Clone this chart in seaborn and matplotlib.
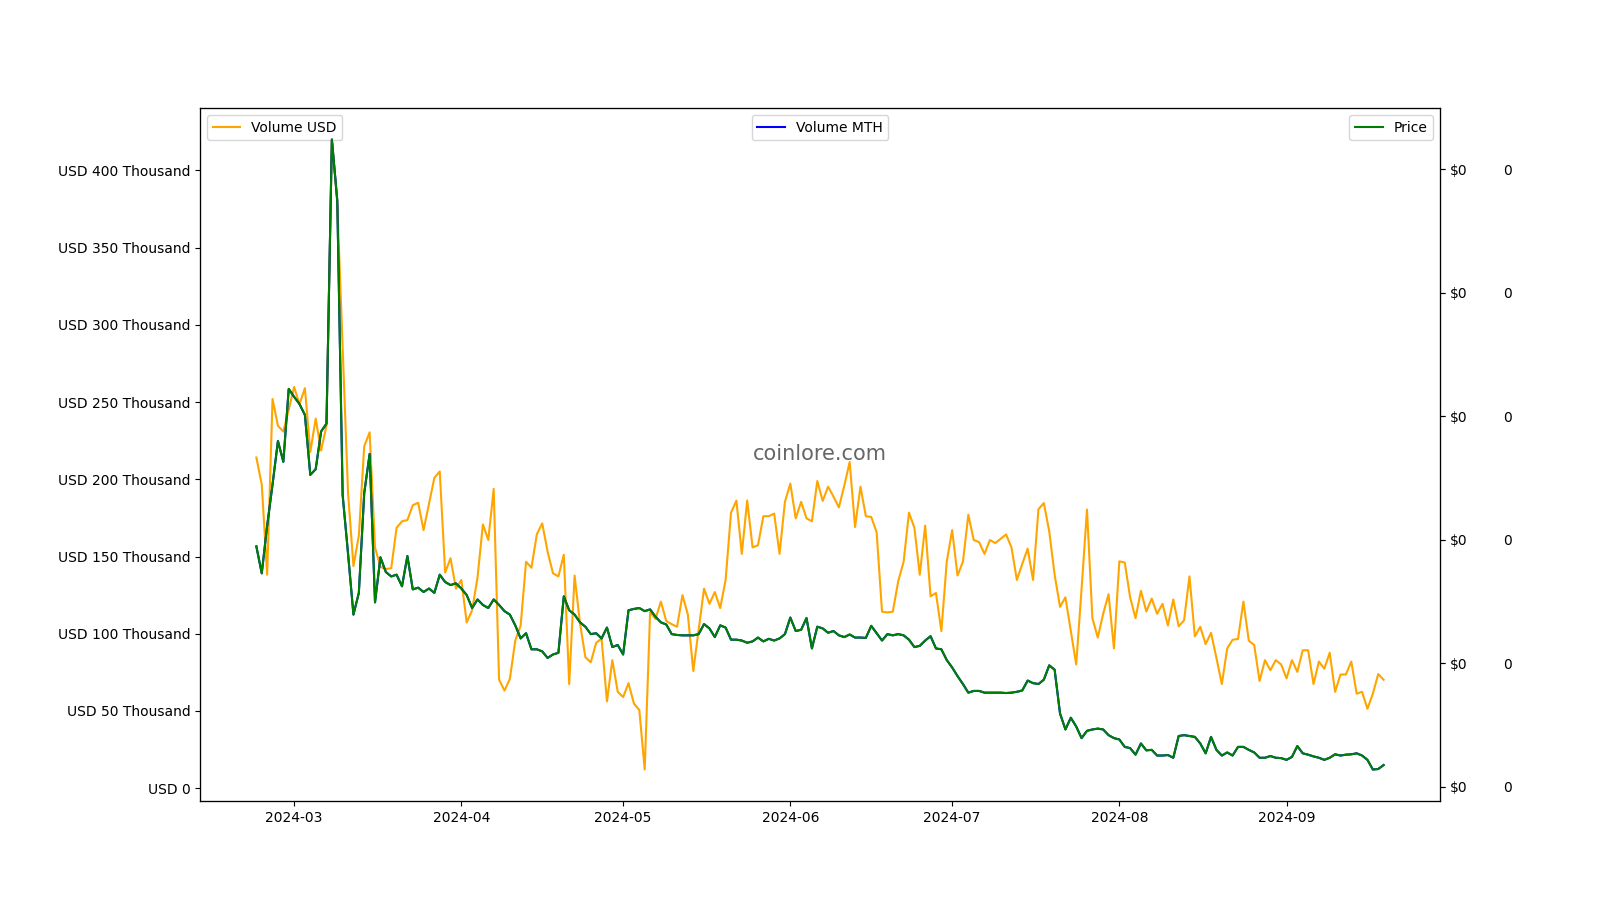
import matplotlib
matplotlib.use("Agg")
import matplotlib.pyplot as plt
import matplotlib.dates as mdates
from matplotlib.ticker import FuncFormatter
import seaborn as sns
import pandas as pd
import numpy as np

start_date = "2024-02-23"
end_date = "2024-09-19"

volume_usd = [
    214100, 196600, 138200, 252000, 234600, 230900, 245000, 259800, 248600, 259000,
    217700, 239300, 218600, 234600, 420000, 379000, 285000, 191000, 143800, 163500,
    221400, 230400, 155900, 143300, 141900, 142400, 168600, 172800, 173600, 183200,
    184800, 167100, 184000, 200900, 205100, 139600, 148900, 129200, 134800, 107300,
    115200, 136300, 170800, 160700, 193800, 70200, 63200, 70800, 95500, 105300,
    146600, 142700, 164400, 171400, 153100, 139100, 137100, 151100, 67400, 137700,
    106800, 84800, 81500, 94100, 96900, 56200, 82900, 62400, 59000, 68000,
    54800, 50600, 12100, 113800, 109600, 120800, 108200, 106200, 104500, 125000,
    112400, 75900, 102500, 129200, 119400, 127000, 116600, 134800, 178400, 186200,
    151700, 186200, 155900, 157300, 176100, 176100, 177800, 151700, 185400, 197200,
    174700, 185400, 174700, 172800, 198900, 186000, 195200, 188800, 181800, 195800,
    211200, 169100, 195200, 176100, 175600, 165700, 114300, 113800, 114300, 134000,
    146600, 178400, 168600, 138200, 170000, 124200, 126400, 101700, 146600, 167100,
    137700, 146600, 177000, 160700, 159300, 151700, 160700, 158700, 161500, 164300,
    155900, 134800, 145200, 155100, 134800, 180600, 184600, 166300, 138200, 117400,
    123600, 101700, 80100, 129200, 180400, 110100, 97500, 112900, 125600, 90500,
    146900, 146100, 123600, 110100, 127800, 114400, 122800, 112900, 119400, 105300,
    122200, 104800, 108700, 137100, 98300, 104500, 93300, 100600, 84300, 67400,
    90500, 96100, 96600, 120800, 95500, 92700, 69400, 82900, 76400, 82900,
    80100, 71100, 82900, 75300, 89300, 89300, 67400, 82000, 77300, 87700,
    62400, 73600, 73600, 82000, 61200, 62400, 51400, 61200, 73900, 70200,
]

price = [
    0.01946, 0.01728, 0.02114, 0.02448, 0.02799, 0.02631, 0.03221, 0.03157, 0.03098, 0.03010,
    0.02525, 0.02571, 0.02876, 0.02940, 0.05240, 0.04748, 0.02360, 0.01886, 0.01394, 0.01570,
    0.02378, 0.02694, 0.01493, 0.01858, 0.01739, 0.01703, 0.01717, 0.01623, 0.01868, 0.01598,
    0.01612, 0.01577, 0.01605, 0.01570, 0.01717, 0.01658, 0.01633, 0.01647, 0.01605, 0.01552,
    0.01447, 0.01517, 0.01472, 0.01447, 0.01517, 0.01472, 0.01422, 0.01394, 0.01307, 0.01201,
    0.01243, 0.01113, 0.01113, 0.01096, 0.01043, 0.01071, 0.01085, 0.01542, 0.01429, 0.01394,
    0.01331, 0.01296, 0.01236, 0.01243, 0.01201, 0.01289, 0.01131, 0.01148, 0.01071, 0.01429,
    0.01440, 0.01447, 0.01422, 0.01436, 0.01377, 0.01331, 0.01314, 0.01236, 0.01229, 0.01226,
    0.01226, 0.01226, 0.01236, 0.01317, 0.01282, 0.01212, 0.01307, 0.01289, 0.01191, 0.01191,
    0.01184, 0.01166, 0.01177, 0.01208, 0.01177, 0.01198, 0.01184, 0.01201, 0.01236, 0.01370,
    0.01261, 0.01271, 0.01366, 0.01120, 0.01296, 0.01282, 0.01247, 0.01261, 0.01226, 0.01212,
    0.01233, 0.01208, 0.01208, 0.01205, 0.01303, 0.01243, 0.01184, 0.01236, 0.01226, 0.01236,
    0.01226, 0.01191, 0.01131, 0.01141, 0.01184, 0.01219, 0.01120, 0.01113, 0.01026, 0.00966,
    0.00896, 0.00832, 0.00762, 0.00776, 0.00776, 0.00762, 0.00762, 0.00762, 0.00762, 0.00759,
    0.00762, 0.00769, 0.00780, 0.00860, 0.00839, 0.00832, 0.00867, 0.00983, 0.00948, 0.00594,
    0.00464, 0.00559, 0.00488, 0.00394, 0.00453, 0.00464, 0.00471, 0.00464, 0.00418, 0.00394,
    0.00383, 0.00323, 0.00313, 0.00260, 0.00351, 0.00295, 0.00299, 0.00253, 0.00253, 0.00257,
    0.00235, 0.00411, 0.00418, 0.00411, 0.00404, 0.00351, 0.00271, 0.00404, 0.00299, 0.00253,
    0.00278, 0.00253, 0.00323, 0.00323, 0.00299, 0.00278, 0.00235, 0.00235, 0.00249, 0.00235,
    0.00232, 0.00218, 0.00242, 0.00330, 0.00271, 0.00260, 0.00246, 0.00235, 0.00218, 0.00235,
    0.00263, 0.00253, 0.00260, 0.00263, 0.00271, 0.00253, 0.00218, 0.00140, 0.00144, 0.00176,
]

# Volume in MTH is drawn underneath the price line (same shape on its own axis)
volume_mth = price

dates = pd.date_range(start_date, end_date, freq="D")

fig, ax1 = plt.subplots(figsize=(16, 9), dpi=100)

sns.lineplot(x=dates, y=volume_usd, ax=ax1, color="orange", label="Volume USD")
ax1.legend(loc="upper left")
ax1.yaxis.set_major_formatter(
    FuncFormatter(lambda v, p: "USD 0" if abs(v) < 1 else f"USD {v/1000:.0f} Thousand")
)
ax1.xaxis.set_major_locator(mdates.MonthLocator())
ax1.xaxis.set_major_formatter(mdates.DateFormatter("%Y-%m"))

ax3 = ax1.twinx()
sns.lineplot(x=dates, y=volume_mth, ax=ax3, color="blue", label="Volume MTH")
ax3.legend(loc="upper center")
ax3.yaxis.set_major_formatter(FuncFormatter(lambda v, p: f"{abs(v):.0f}"))
ax3.tick_params(axis="y", pad=42)

ax2 = ax1.twinx()
sns.lineplot(x=dates, y=price, ax=ax2, color="green", label="Price")
ax2.legend(loc="upper right")
ax2.yaxis.set_major_formatter(FuncFormatter(lambda v, p: f"${abs(v):.0f}"))

for a in (ax1, ax2, ax3):
    a.set_xlabel("")
    a.set_ylabel("")

ax1.text(0.5, 0.5, "coinlore.com", transform=ax1.transAxes, ha="center", va="center",
         fontsize=15, color="#555555", alpha=0.9)

fig.savefig("out.png", dpi=100)
